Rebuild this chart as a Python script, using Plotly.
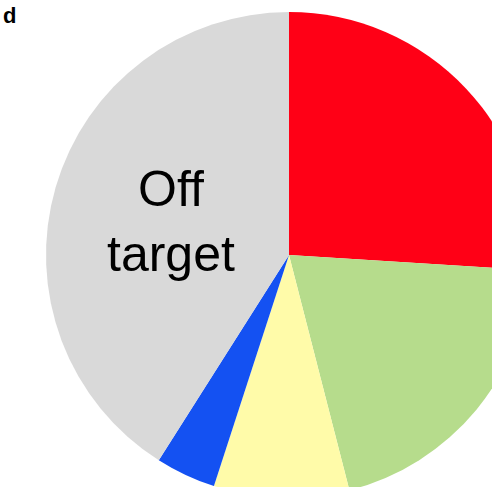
import plotly.graph_objects as go

# Data (share of the pie, clockwise from 12 o'clock)
categories = ["A", "B", "C", "D", "Off target"]
values = [26, 20, 9, 4, 41]
colors = ["#FF0016", "#B6DC8C", "#FFFBA9", "#1451F2", "#D9D9D9"]

W, H = 540, 500  # figure larger than the window; the pie runs past the right/bottom edge

cx, cy, r = 289, 255, 243

fig = go.Figure(
    go.Pie(
        labels=categories,
        values=values,
        sort=False,
        direction="clockwise",
        rotation=0,
        marker=dict(colors=colors, line=dict(width=0)),
        textinfo="none",
        hoverinfo="label+percent",
        showlegend=False,
        domain=dict(x=[(cx - r) / W, (cx + r) / W], y=[1 - (cy + r) / H, 1 - (cy - r) / H]),
    )
)

fig.add_annotation(
    text="Off<br>target", x=171 / W, y=1 - 222 / H, xref="paper", yref="paper",
    showarrow=False, font=dict(family="Liberation Sans, Arial", size=50, color="#000000"),
    xanchor="center", yanchor="middle",
)
fig.add_annotation(
    text="<b>d</b>", x=1 / W, y=1 - 1 / H, xref="paper", yref="paper",
    showarrow=False, font=dict(family="Liberation Sans, Arial", size=22, color="#000000"),
    xanchor="left", yanchor="top",
)

fig.update_layout(
    width=W, height=H,
    margin=dict(l=0, r=0, t=0, b=0),
    paper_bgcolor="white", plot_bgcolor="white",
)

fig.write_html(
    "out.html",
    config={"displayModeBar": False},
    post_script="document.body.style.margin='0';document.body.style.overflow='hidden';document.documentElement.style.overflow='hidden';",
)
